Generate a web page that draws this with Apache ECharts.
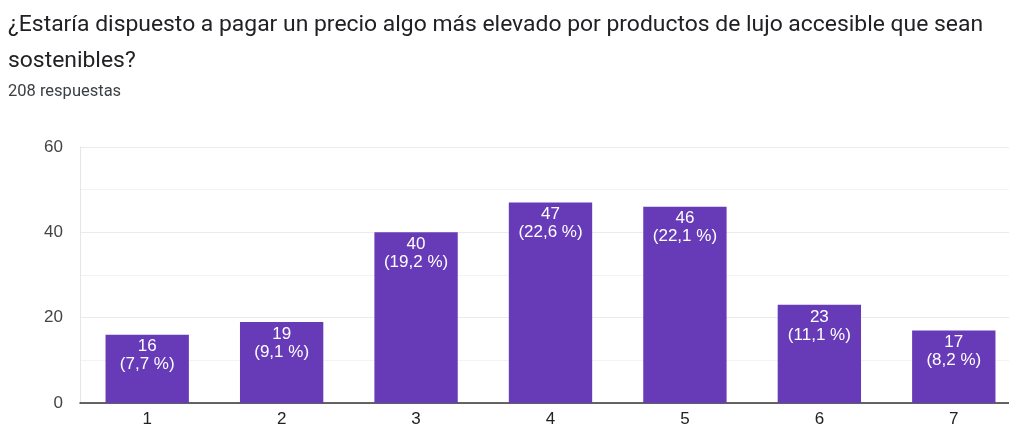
<!DOCTYPE html>
<html>
<head>
<meta charset="utf-8">
<script src="https://cdn.jsdelivr.net/npm/echarts@6/dist/echarts.min.js"></script>
<style>
	html, body { margin: 0; padding: 0; background: #fff; }
	#main { width: 1009px; height: 428px; }
</style>
</head>
<body>
<div id="main"></div>
<script>
var categories = ['1', '2', '3', '4', '5', '6', '7'];
var counts = [16, 19, 40, 47, 46, 23, 17];
var percents = ['7,7', '9,1', '19,2', '22,6', '22,1', '11,1', '8,2'];
var yTicks = [0, 20, 40, 60];

var myChart = echarts.init(document.getElementById('main'));

var option = {
	animation: false,
	textStyle: { fontFamily: 'Liberation Sans' },
	title: [{
		text: '¿Estaría dispuesto a pagar un precio algo más elevado por productos de lujo accesible que sean\nsostenibles?',
		left: 8,
		top: 7,
		padding: 0,
		textStyle: {
			fontFamily: 'Roboto',
			fontSize: 22.9,
			fontWeight: 'normal',
			color: '#202124',
			lineHeight: 36
		}
	}, {
		text: '208 respuestas',
		left: 8,
		top: 82,
		padding: 0,
		textStyle: {
			fontFamily: 'Roboto',
			fontSize: 16.5,
			fontWeight: 'normal',
			color: '#3c4043',
			lineHeight: 20
		}
	}],
	grid: {
		left: 80,
		width: 941,
		top: 147,
		bottom: 25,
		outerBoundsMode: 'none'
	},
	xAxis: {
		type: 'category',
		data: categories,
		axisTick: { show: false },
		axisLine: { lineStyle: { color: '#333', width: 1.5 } },
		axisLabel: { color: '#222', fontSize: 17, margin: 8, fontFamily: 'Liberation Sans' }
	},
	yAxis: {
		type: 'value',
		min: yTicks[0],
		max: yTicks[yTicks.length - 1],
		interval: 20,
		axisLabel: { color: '#444', fontSize: 17, margin: 17, fontFamily: 'Liberation Sans' },
		axisLine: { show: true, lineStyle: { color: '#e6e6e6' } },
		splitLine: { lineStyle: { color: '#ebebeb' } },
		minorTick: { show: false, splitNumber: 2 },
		minorSplitLine: { show: true, lineStyle: { color: '#f3f3f3' } }
	},
	series: [{
		type: 'bar',
		barWidth: '62%',
		data: counts,
		itemStyle: { color: '#673ab7' },
		label: {
			show: true,
			position: 'insideTop',
			distance: 3,
			color: '#fff',
			fontSize: 17,
			lineHeight: 18,
			fontFamily: 'Liberation Sans',
			formatter: function (p) {
				return p.value + '\n(' + percents[p.dataIndex] + ' %)';
			}
		}
	}]
};

myChart.setOption(option);
</script>
</body>
</html>
